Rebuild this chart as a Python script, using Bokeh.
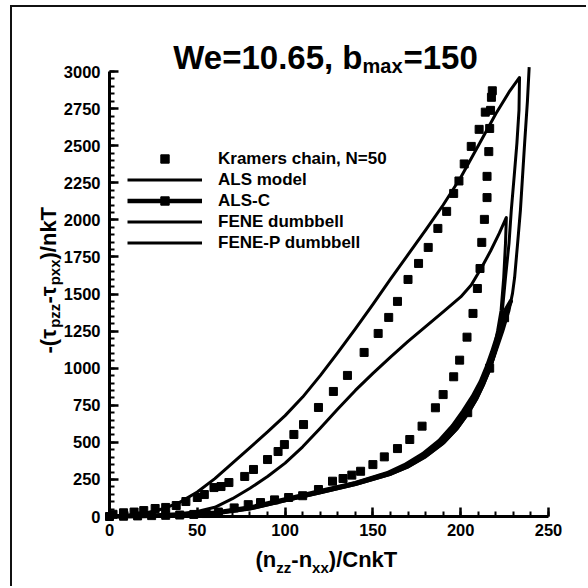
import math
from bokeh.plotting import figure
from bokeh.models import Range1d, FixedTicker, Label, Legend, LegendItem
from bokeh.embed import file_html
from bokeh.resources import INLINE

# ---------------- data ----------------
x_ticks = [0, 50, 100, 150, 200, 250]
x_tick_labels = ["0", "50", "100", "150", "200", "250"]
x_minor = list(range(0, 251, 10))
y_ticks = [0, 250, 500, 750, 1000, 1250, 1500, 1750, 2000, 2250, 2500, 2750, 3000]
y_tick_labels = ["0", "250", "500", "750", "1000", "1250", "1500", "1750", "2000", "2250",
                 "2500", "2750", "3000"]
y_minor = list(range(0, 3001, 50))

# Kramers chain, N=50 (symbols): stretching branch and relaxation branch
kram_up_x = [0, 8, 16, 24, 32, 40, 48, 55, 62, 71, 79, 86, 94, 102, 110, 119, 127, 133, 138, 143,
             150, 156.5, 164, 171, 178, 185.6, 190, 196, 199.4, 203.6, 207, 209.5, 211, 212, 213.5,
             215, 215, 216, 216.5, 217, 217.5, 218]
kram_up_y = [0, 2, 4, 6, 8, 10, 14, 20, 30, 58, 80, 94, 112, 128, 140, 182, 238, 256, 279, 305,
             350, 402, 458, 519, 609, 733, 822, 942, 1054, 1209, 1369, 1537, 1672, 1848, 2003,
             2150, 2293, 2460, 2616, 2738, 2826, 2870]
kram_dn_x = [214, 210.5, 206, 202, 199, 196, 192, 187, 181.5, 176, 170, 164, 159, 153, 145, 135.5,
             127.5, 119, 110.5, 105, 99.6, 96, 90, 82, 77, 68, 63.5, 59.5, 54, 50, 43.5, 38, 32, 26,
             19.5, 14, 8, 2]
kram_dn_y = [2726, 2610, 2495, 2377, 2262, 2178, 2057, 1942, 1814, 1706, 1598, 1450, 1342, 1234,
             1106, 951, 843, 735, 620, 553, 485, 438, 384, 317, 270, 229, 202, 195, 148, 128, 101,
             74, 61, 54, 40, 30, 25, 15]

# ALS model (loop, apex ~ (233.5, 2960))
als_x = [0, 20, 40, 60, 80, 100, 120, 140, 160, 170, 180, 190, 198, 204, 209, 213.5, 217, 220.5,
         223.5, 225.5, 227.5, 228.8, 230.5, 232, 233.2, 233.5,
         228, 220, 210, 200, 190, 180, 170, 160, 150, 140, 130, 120, 110, 100, 90, 80, 70, 60,
         50, 40, 30, 20, 10, 0]
als_y = [0, 4, 11, 24, 57, 112, 168, 224, 294, 344, 414, 505, 606, 706, 806, 910, 1010, 1140,
         1360, 1611, 1840, 2063, 2300, 2515, 2740, 2960,
         2870, 2715, 2500, 2285, 2100, 1930, 1765, 1600, 1430, 1265, 1105, 950, 805, 680, 570,
         465, 360, 255, 165, 95, 50, 22, 8, 0]

# ALS-C (narrow loop inside the thick band, apex ~ (228.5, 1450))
alsc_x = [0, 20, 40, 60, 80, 100, 120, 140, 160, 170, 180, 190, 198, 204, 209, 213, 216.5, 219.5,
          222.5, 225, 227, 228.5,
          226, 223.5, 221, 218, 215, 211.5, 207, 201.5, 195.5, 188, 178.5, 168, 158, 140, 120,
          100, 80, 60, 40, 20, 0]
alsc_y = [0, 4, 10, 22, 55, 110, 165, 220, 290, 340, 410, 500, 600, 700, 800, 900, 1000, 1120,
          1250, 1340, 1410, 1450,
          1400, 1320, 1220, 1110, 1010, 910, 810, 710, 610, 510, 420, 345, 290, 225, 170, 115, 60,
          25, 11, 5, 0]
alsc_sym_x = [204, 216.5, 225]
alsc_sym_y = [700, 1000, 1340]

# FENE dumbbell (rightmost, up to ~ (239, 3030))
fene_x = [0, 20, 40, 60, 80, 100, 120, 140, 160, 170, 180, 190, 198, 204, 209, 213, 216.5, 220,
          224, 227.5, 229.5, 230.7, 232.4, 234, 236.4, 238, 239]
fene_y = [0, 3, 9, 20, 52, 106, 160, 215, 284, 334, 402, 492, 592, 690, 790, 890, 990, 1110,
          1250, 1389, 1504, 1611, 1840, 2063, 2515, 2800, 3030]

# FENE-P dumbbell (middle loop, apex ~ (226, 2016))
fenep_x = [0, 20, 40, 60, 80, 100, 120, 140, 160, 170, 180, 190, 198, 204, 209, 213, 216, 219,
           221, 223, 224.5, 225.5, 226,
           222, 217, 212, 206, 200, 190, 180, 170, 160, 150, 140, 130, 120, 110, 100, 90, 80,
           70, 60, 50, 40, 20, 0]
fenep_y = [0, 5, 12, 25, 58, 115, 170, 228, 298, 348, 420, 512, 612, 712, 812, 912, 1012, 1130,
           1250, 1389, 1611, 1840, 2016,
           1910, 1790, 1680, 1560, 1480, 1380, 1280, 1180, 1075, 965, 850, 725, 595, 470, 360,
           270, 190, 120, 62, 34, 18, 5, 0]

legend_labels = ["Kramers chain, N=50", "ALS model", "ALS-C", "FENE dumbbell", "FENE-P dumbbell"]

# ---------------- layout ----------------
FONT = "Liberation Sans"
CX0, CY0 = 12, 7                 # page position of the canvas (inside the border)
W, H = 588 - CX0, 588 - CY0
AX_L, AX_R, AX_B, AX_T = 109, 548, 516, 71   # page pixels of x=0, x=250, y=0, y=3000
kx = (AX_R - AX_L) / 250.0
ky = (AX_B - AX_T) / 3000.0
x_rng = Range1d((CX0 - AX_L) / kx, (CX0 + W - AX_L) / kx)
y_rng = Range1d((AX_B - (CY0 + H)) / ky, (AX_B - CY0) / ky)

p = figure(width=W, height=H, x_range=x_rng, y_range=y_rng,
           output_backend="svg", toolbar_location=None,
           min_border_left=0, min_border_right=0, min_border_top=0, min_border_bottom=0)
p.styles = {"margin-left": "10px", "margin-top": "5px",
            "border-left": "2px solid #111", "border-top": "2px solid #111"}
p.grid.visible = False
p.outline_line_color = None
p.background_fill_color = "white"
p.border_fill_color = "white"

for ax, ticks, minor, labels in ((p.xaxis[0], x_ticks, x_minor, x_tick_labels),
                                 (p.yaxis[0], y_ticks, y_minor, y_tick_labels)):
    ax.fixed_location = 0
    ax.ticker = FixedTicker(ticks=ticks, minor_ticks=minor)
    ax.major_label_overrides = {t: l for t, l in zip(ticks, labels)}
    ax.axis_line_width = 3
    ax.axis_line_color = "black"
    ax.major_tick_in = 9
    ax.major_tick_out = 0
    ax.minor_tick_in = 5
    ax.minor_tick_out = 0
    ax.major_tick_line_width = 2.5
    ax.minor_tick_line_width = 2
    ax.major_tick_line_color = "black"
    ax.minor_tick_line_color = "black"
    ax.major_label_text_font = FONT
    ax.major_label_text_font_style = "bold"
    ax.major_label_text_font_size = "16.5px"
    ax.major_label_text_color = "black"
p.xaxis[0].bounds = (0, 250)
p.yaxis[0].bounds = (0, 3000)
p.xaxis[0].major_label_standoff = 7
p.yaxis[0].major_label_standoff = 9

k1 = p.scatter(kram_up_x, kram_up_y, marker="square", size=8, color="black")
p.scatter(kram_dn_x, kram_dn_y, marker="square", size=8, color="black")
r_als = p.line(als_x, als_y, line_width=3, color="black", line_join="round")
r_alsc = p.line(alsc_x, alsc_y, line_width=4.5, color="black", line_join="round")
r_alsc_s = p.scatter(alsc_sym_x, alsc_sym_y, marker="square", size=8, color="black")
r_fene = p.line(fene_x, fene_y, line_width=3, color="black", line_join="round")
r_fenep = p.line(fenep_x, fenep_y, line_width=3, color="black", line_join="round")

FB = CY0 + H   # page y of the frame's bottom edge


def sx(px):
    return px - CX0


def sy(py):
    return FB - py


legend = Legend(items=[LegendItem(label=legend_labels[0], renderers=[k1]),
                       LegendItem(label=legend_labels[1], renderers=[r_als]),
                       LegendItem(label=legend_labels[2], renderers=[r_alsc, r_alsc_s]),
                       LegendItem(label=legend_labels[3], renderers=[r_fene]),
                       LegendItem(label=legend_labels[4], renderers=[r_fenep])],
                location=(sx(127), sy(253)), glyph_width=75, glyph_height=21,
                label_height=21, spacing=0, label_standoff=16, padding=0, margin=0,
                border_line_color=None, background_fill_alpha=0,
                label_text_font=FONT, label_text_font_style="bold",
                label_text_font_size="17px", label_text_color="black")
p.add_layout(legend)


def lab(text, px, py, size, align="left", angle=0.0):
    p.add_layout(Label(x=sx(px), y=sy(py), x_units="screen", y_units="screen", text=text,
                       text_font=FONT, text_font_style="bold", text_font_size=size,
                       text_align=align, text_baseline="alphabetic", angle=angle,
                       text_color="black"))


# title
lab("We=10.65, b", 362, 57, "33px", align="right")
lab("max", 362, 65, "20px")
lab("=150", 403, 57, "33px")

# x axis label
lab("(n", 255, 559, "22px")
lab("zz", 275.8, 567, "15px")
lab("-n", 290.8, 559, "22px")
lab("xx", 311.6, 567, "15px")
lab(")/CnkT", 328.3, 559, "22px")

# y axis label (rotated)
A = math.pi / 2
lab("-(\u03c4", 48, 353, "22px", angle=A)
lab("pzz", 54, 327.3, "15px", angle=A)
lab("-\u03c4", 48, 303.1, "22px", angle=A)
lab("pxx", 54, 284.8, "15px", angle=A)
lab(")/nkT", 48, 259.0, "22px", angle=A)

open("out.html", "w").write(file_html(p, INLINE))
